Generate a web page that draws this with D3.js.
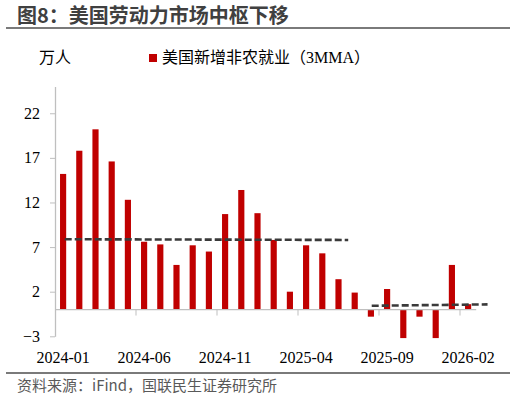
<html>
<head>
<script src="https://d3js.org/d3.v7.min.js"></script>
<style>
  body { margin: 0; background: #fff; }
</style>
</head>
<body>
<div id="chart"></div>
<script>

// data
const months = [
  '2024-01','2024-02','2024-03','2024-04','2024-05','2024-06','2024-07','2024-08','2024-09','2024-10','2024-11','2024-12',
  '2025-01','2025-02','2025-03','2025-04','2025-05','2025-06','2025-07','2025-08','2025-09','2025-10','2025-11','2025-12',
  '2026-01','2026-02'
];
const payrolls3mma = [
  15.2, 17.8, 20.2, 16.6, 12.3, 7.6, 7.3, 5.0, 7.2, 6.5, 10.7, 13.4,
  10.8, 7.8, 2.0, 7.2, 6.3, 3.4, 1.9, -0.8, 2.3, -3.2, -0.8, -3.2,
  5.0, 0.6
];
// dashed "center" lines: position in month steps, value at each end
const centerFrom = [0.6, 19.55];
const centerTo = [18.1, 26.7];
const centerStart = [7.88, 0.42];
const centerEnd = [7.80, 0.58];
const yTicks = [-3, 2, 7, 12, 17, 22];
const xTickMonths = ['2024-01','2024-06','2024-11','2025-04','2025-09','2026-02'];

// constants
const W = 516, H = 401;
const plot = {left: 55, right: 476.2, top: 86.5, bottom: 336.3};
const red = '#C00000';
const axisGray = '#bfbfbf';
const serif = '"Liberation Serif", "Times New Roman", serif';
const cjk = '"Noto Sans CJK SC", "Noto Sans", sans-serif';

const svg = d3.select('#chart').append('svg')
  .attr('width', W)
  .attr('height', H);

const x = d3.scaleBand().domain(months).range([plot.left, plot.right]).paddingInner(0.62).paddingOuter(0.31);
const step = x.step();
const xPos = d3.scaleLinear().domain([0, months.length]).range([plot.left, plot.right]);
const y = d3.scaleLinear().domain([-3, 25]).range([plot.bottom, plot.top]);

// title
svg.append('text')
  .attr('x', 17).attr('y', 23)
  .text('图8：美国劳动力市场中枢下移')
  .style('font-family', cjk)
  .style('font-size', '20px')
  .style('font-weight', 'bold')
  .style('fill', '#404040');
svg.append('line')
  .attr('x1', 6).attr('x2', 510).attr('y1', 28).attr('y2', 28)
  .style('stroke', '#7a7a7a').style('stroke-width', 2);

// unit + legend
svg.append('text')
  .attr('x', 39).attr('y', 63)
  .text('万人')
  .style('font-family', cjk).style('font-size', '16px').style('fill', '#000');
svg.append('rect')
  .attr('x', 149).attr('y', 54).attr('width', 8).attr('height', 8)
  .style('fill', red);
const lg = svg.append('text')
  .attr('x', 162).attr('y', 63)
  .style('font-size', '16px').style('fill', '#000');
lg.append('tspan').text('美国新增非农就业（').style('font-family', cjk);
lg.append('tspan').text('3MMA').style('font-family', serif);
lg.append('tspan').text('）').style('font-family', cjk);

// y axis
const yAxis = svg.append('g')
  .attr('transform', `translate(${plot.left},0)`)
  .call(d3.axisLeft(y).tickValues(yTicks).tickSize(5).tickPadding(10).tickSizeOuter(0));
yAxis.select('.domain').style('stroke', axisGray).style('stroke-width', 1.3);
yAxis.selectAll('.tick line').style('stroke', axisGray);
yAxis.selectAll('.tick text')
  .style('font-family', serif).style('font-size', '16px').style('fill', '#000');

// bars
svg.append('g').selectAll('rect')
  .data(payrolls3mma)
  .join('rect')
  .attr('x', (d, i) => x(months[i]))
  .attr('width', x.bandwidth())
  .attr('y', d => y(Math.max(0, d)))
  .attr('height', d => Math.abs(y(d) - y(0)))
  .style('fill', red);

// x axis at zero
const y0 = y(0);
svg.append('line')
  .attr('x1', plot.left).attr('x2', plot.right).attr('y1', y0).attr('y2', y0)
  .style('stroke', axisGray).style('stroke-width', 1.3);
svg.append('g').selectAll('line')
  .data(xTickMonths.slice(1))
  .join('line')
  .attr('x1', d => x(d) - x.paddingOuter() * step)
  .attr('x2', d => x(d) - x.paddingOuter() * step)
  .attr('y1', y0).attr('y2', y0 + 6)
  .style('stroke', axisGray);
svg.append('g').selectAll('text')
  .data(xTickMonths)
  .join('text')
  .attr('x', d => x(d) + x.bandwidth() / 2)
  .attr('y', 363)
  .attr('text-anchor', 'middle')
  .text(d => d)
  .style('font-family', serif).style('font-size', '16px').style('fill', '#000');

// dashed center lines
svg.append('g').selectAll('line')
  .data(centerFrom)
  .join('line')
  .attr('x1', (d) => xPos(d))
  .attr('x2', (d, i) => xPos(centerTo[i]))
  .attr('y1', (d, i) => y(centerStart[i]))
  .attr('y2', (d, i) => y(centerEnd[i]))
  .style('stroke', '#3a3a3a')
  .style('stroke-width', 2.6)
  .style('stroke-dasharray', '7,3');

// footer
svg.append('line')
  .attr('x1', 6).attr('x2', 510).attr('y1', 373).attr('y2', 373)
  .style('stroke', '#7a7a7a').style('stroke-width', 2);
svg.append('text')
  .attr('x', 17).attr('y', 391)
  .text('资料来源：iFind，国联民生证券研究所')
  .style('font-family', cjk).style('font-size', '15px').style('fill', '#595959');

</script>
</body>
</html>
